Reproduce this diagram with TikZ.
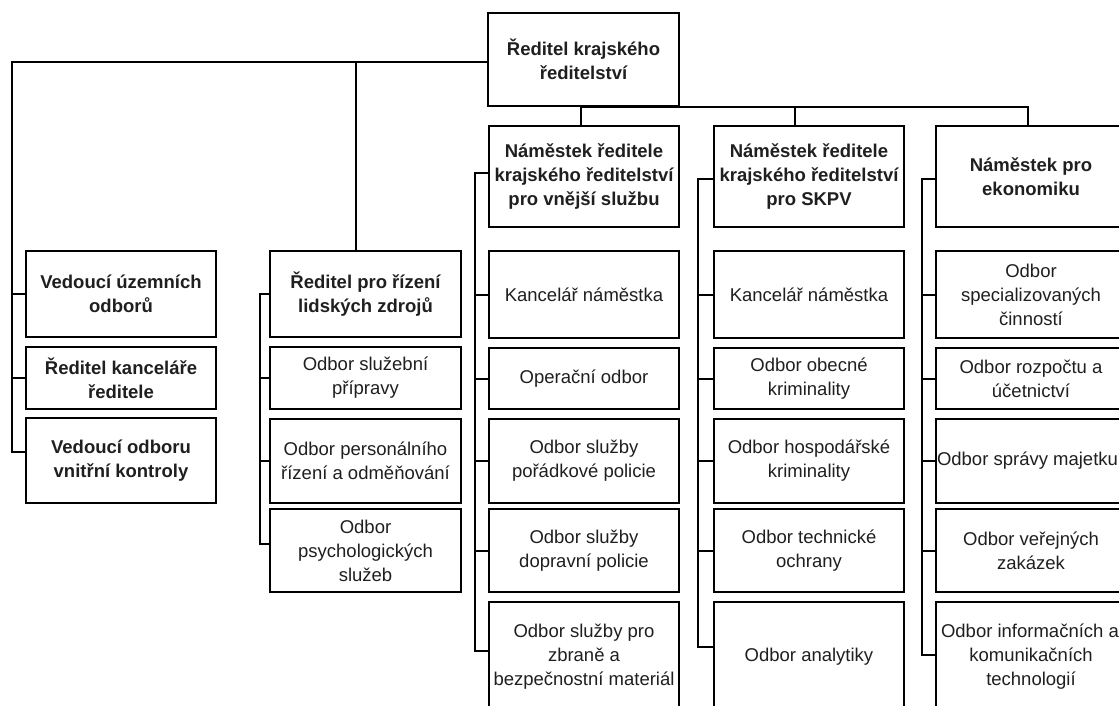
\documentclass[tikz,border=0pt]{standalone}
\usepackage{fontspec}
\setmainfont{Liberation Sans}
\begin{document}
\begin{tikzpicture}[x=1pt,y=-1pt,
  box/.style={draw=black, line width=1.3pt, align=center, inner sep=0pt, fill=white,
    font=\fontsize{18.5}{24}\selectfont, text=black!88},
  bbox/.style={box, font=\fontsize{18.5}{24}\selectfont\bfseries},
  conn/.style={draw=black, line width=2pt, line cap=rect}]
\useasboundingbox (0,0) rectangle (1119,706);
\clip (0,0) rectangle (1119,706);
\fill[white] (0,0) rectangle (1119,706);

% top
\node[bbox, minimum width=191pt, minimum height=93pt] (top) at (583.5,59.5) {Ředitel krajského\\ředitelství};

% column 1
\node[bbox, minimum width=190pt, minimum height=86pt] (v1) at (121,294) {Vedoucí územních\\odborů};
\node[bbox, minimum width=190pt, minimum height=62pt] (v2) at (121,378) {Ředitel kanceláře\\ředitele};
\node[bbox, minimum width=190pt, minimum height=85pt] (v3) at (121,460.5) {Vedoucí odboru\\vnitřní kontroly};

% column 2
\node[bbox, minimum width=191pt, minimum height=86pt] (h2) at (365.5,294) {Ředitel pro řízení\\lidských zdrojů};
\node[box, minimum width=191pt, minimum height=62pt] (s1) at (365.5,378) {Odbor služební\\přípravy};
\node[box, minimum width=191pt, minimum height=84pt] (s2) at (365.5,461) {Odbor personálního\\řízení a odměňování};
\node[box, minimum width=191pt, minimum height=83pt] (s3) at (365.5,550.5) {Odbor\\psychologických\\služeb};

% column 3
\node[bbox, minimum width=190pt, minimum height=101pt] (d1) at (584,176.5) {Náměstek ředitele\\krajského ředitelství\\pro vnější službu};
\node[box, minimum width=190pt, minimum height=87pt] (a1) at (584,294.5) {Kancelář náměstka};
\node[box, minimum width=190pt, minimum height=61pt] (a2) at (584,378.5) {Operační odbor};
\node[box, minimum width=190pt, minimum height=84pt] (a3) at (584,461) {Odbor služby\\pořádkové policie};
\node[box, minimum width=190pt, minimum height=83pt] (a4) at (584,550.5) {Odbor služby\\dopravní policie};
\node[box, minimum width=190pt, minimum height=110pt] (a5) at (584,657) {Odbor služby pro\\zbraně a\\bezpečnostní materiál};

% column 4
\node[bbox, minimum width=190pt, minimum height=101pt] (d2) at (809,176.5) {Náměstek ředitele\\krajského ředitelství\\pro SKPV};
\node[box, minimum width=190pt, minimum height=87pt] (c1) at (809,294.5) {Kancelář náměstka};
\node[box, minimum width=190pt, minimum height=61pt] (c2) at (809,378.5) {Odbor obecné\\kriminality};
\node[box, minimum width=190pt, minimum height=84pt] (c3) at (809,461) {Odbor hospodářské\\kriminality};
\node[box, minimum width=190pt, minimum height=83pt] (c4) at (809,550.5) {Odbor technické\\ochrany};
\node[box, minimum width=190pt, minimum height=110pt] (c5) at (809,657) {Odbor analytiky};

% column 5
\node[bbox, minimum width=190pt, minimum height=101pt] (d3) at (1031,176.5) {Náměstek pro\\ekonomiku};
\node[box, minimum width=190pt, minimum height=87pt] (e1) at (1031,294.5) {Odbor\\specializovaných\\činností};
\node[box, minimum width=190pt, minimum height=61pt] (e2) at (1031,378.5) {Odbor rozpočtu a\\účetnictví};
\node[box, minimum width=190pt, minimum height=84pt] (e3) at (1031,461) {Odbor správy majetku\hspace*{7pt}};
\node[box, minimum width=190pt, minimum height=83pt] (e4) at (1031,550.5) {Odbor veřejných\\zakázek};
\node[box, minimum width=190pt, minimum height=110pt] (e5) at (1031,657) {Odbor informačních a\hspace*{2pt}\\komunikačních\\technologií};

% junction coordinates
\coordinate (b1) at (12,62);
\coordinate (j2) at (356,62);
\coordinate (b2) at (260,0);
\coordinate (b3) at (475,0);
\coordinate (b4) at (698,0);
\coordinate (b5) at (922,0);
\coordinate (bar) at (0,107);
\coordinate (v3s) at ([yshift=9pt]v3.west);
\coordinate (s3s) at ([yshift=7pt]s3.west);
\coordinate (d1s) at ([yshift=3.5pt]d1.west);
\coordinate (a5s) at ([yshift=6pt]a5.west);
\coordinate (d2s) at ([yshift=-2.5pt]d2.west);
\coordinate (c5s) at ([yshift=10pt]c5.west);
\coordinate (d3s) at ([yshift=-2.5pt]d3.west);
\coordinate (e5s) at ([yshift=2pt]e5.west);
\coordinate (d2t) at ([xshift=-14pt]d2.north);
\coordinate (d1t) at ([xshift=-3pt]d1.north);
\coordinate (d3t) at ([xshift=-3pt]d3.north);

% connectors from the top
\draw[conn] (top.west |- b1) -- (b1) -- (b1 |- v3s) -- (v3s);
\draw[conn] (b1 |- v1.west) -- (v1.west);
\draw[conn] (b1 |- v2.west) -- (v2.west);
\draw[conn] (j2) -- (j2 |- h2.north);
\draw[conn] (d1t |- bar) -- (d3t |- bar);
\draw[conn] (d1t |- bar) -- (d1t);
\draw[conn] (d2t |- bar) -- (d2t);
\draw[conn] (d3t |- bar) -- (d3t);

% column 2 bracket
\draw[conn] (h2.west) -- (b2 |- h2.west) -- (b2 |- s3s) -- (s3s);
\draw[conn] (b2 |- s1.west) -- (s1.west);
\draw[conn] (b2 |- s2.west) -- (s2.west);

% column 3 bracket
\draw[conn] (d1s) -- (b3 |- d1s) -- (b3 |- a5s) -- (a5s);
\draw[conn] (b3 |- a1.west) -- (a1.west);
\draw[conn] (b3 |- a2.west) -- (a2.west);
\draw[conn] (b3 |- a3.west) -- (a3.west);
\draw[conn] (b3 |- a4.west) -- (a4.west);

% column 4 bracket
\draw[conn] (d2s) -- (b4 |- d2s) -- (b4 |- c5s) -- (c5s);
\draw[conn] (b4 |- c1.west) -- (c1.west);
\draw[conn] (b4 |- c2.west) -- (c2.west);
\draw[conn] (b4 |- c3.west) -- (c3.west);
\draw[conn] (b4 |- c4.west) -- (c4.west);

% column 5 bracket
\draw[conn] (d3s) -- (b5 |- d3s) -- (b5 |- e5s) -- (e5s);
\draw[conn] (b5 |- e1.west) -- (e1.west);
\draw[conn] (b5 |- e2.west) -- (e2.west);
\draw[conn] (b5 |- e3.west) -- (e3.west);
\draw[conn] (b5 |- e4.west) -- (e4.west);
\end{tikzpicture}
\end{document}
